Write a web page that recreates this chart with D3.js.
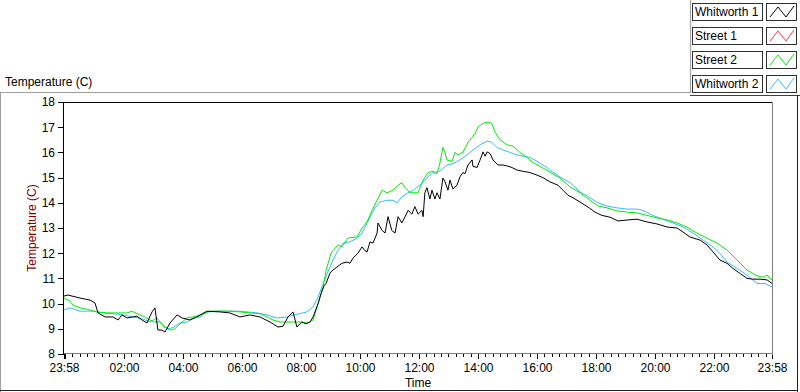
<!DOCTYPE html>
<html>
<head>
<meta charset="utf-8">
<script src="https://cdn.jsdelivr.net/npm/d3@7"></script>
<style>
  body { margin: 0; background: #fff; }
  svg { display: block; font-family: 'Liberation Sans', Arial, sans-serif; }
</style>
</head>
<body>
<div id="chart"></div>
<script>
const svgWidth = 800;
const svgHeight = 392;

// [hours since midnight, temperature C]; run goes 23:58 -> 23:58 next day
const whitworth1 = [
  [-0.033, 10.3], [0.1, 10.34], [0.51, 10.22], [0.85, 10.14], [1.02, 10.02], [1.12, 9.63],
  [1.36, 9.47], [1.63, 9.47], [1.8, 9.35], [1.93, 9.55], [2.1, 9.43], [2.44, 9.5],
  [2.61, 9.35], [2.78, 9.23], [2.95, 9.67], [3.05, 9.83], [3.15, 8.95], [3.29, 8.95],
  [3.39, 8.87], [3.56, 9.23], [3.8, 9.55], [3.97, 9.43], [4.24, 9.35], [4.47, 9.47],
  [4.81, 9.7], [5.25, 9.67], [5.59, 9.63], [5.93, 9.47], [6.27, 9.55], [6.61, 9.47],
  [6.95, 9.27], [7.22, 9.07], [7.39, 9.1], [7.56, 9.47], [7.73, 9.67], [7.8, 9.35],
  [7.86, 9.07], [8.03, 9.27], [8.17, 9.2], [8.31, 9.27], [8.41, 9.47], [8.58, 10.0],
  [8.68, 10.4], [8.78, 10.7], [8.85, 10.8], [8.98, 11.2], [9.05, 11.3], [9.22, 11.45],
  [9.39, 11.6], [9.56, 11.65], [9.66, 11.6], [9.76, 11.8], [9.93, 12.0], [10.07, 12.25],
  [10.17, 12.1], [10.24, 12.05], [10.34, 12.45], [10.44, 12.4], [10.58, 12.8], [10.61, 13.2],
  [10.75, 12.9], [10.85, 12.8], [10.95, 13.45], [11.08, 12.9], [11.19, 12.8], [11.29, 13.45],
  [11.42, 13.2], [11.53, 13.45], [11.63, 13.7], [11.76, 13.55], [11.86, 13.85], [11.97, 13.55],
  [12.1, 13.7], [12.14, 13.45], [12.2, 14.4], [12.27, 14.6], [12.37, 14.15], [12.44, 14.5],
  [12.54, 14.15], [12.61, 14.4], [12.71, 14.15], [12.81, 14.98], [12.88, 14.85], [12.98, 14.5],
  [13.05, 14.9], [13.15, 14.55], [13.29, 14.7], [13.39, 15.03], [13.49, 15.2], [13.56, 15.15],
  [13.66, 15.5], [13.8, 15.7], [13.83, 15.45], [13.97, 15.4], [14.07, 15.7], [14.17, 16.02],
  [14.24, 15.85], [14.31, 16.02], [14.41, 15.95], [14.51, 15.7], [14.68, 15.5], [14.85, 15.5],
  [15.02, 15.45], [15.15, 15.4], [15.32, 15.3], [15.53, 15.25], [15.76, 15.2], [16.0, 15.1],
  [16.2, 15.0], [16.44, 14.83], [16.71, 14.7], [16.88, 14.5], [17.05, 14.3], [17.22, 14.2],
  [17.46, 14.03], [17.73, 13.83], [17.97, 13.63], [18.2, 13.5], [18.47, 13.43], [18.75, 13.28],
  [19.08, 13.32], [19.39, 13.35], [19.73, 13.24], [20.07, 13.16], [20.41, 13.04], [20.75, 13.0],
  [20.95, 12.84], [21.19, 12.64], [21.53, 12.52], [21.76, 12.33], [21.97, 12.05], [22.2, 11.73],
  [22.44, 11.6], [22.64, 11.4], [22.88, 11.2], [23.12, 11.0], [23.32, 10.97], [23.56, 10.97],
  [23.8, 10.94], [23.967, 10.8],
];

// no visible trace in the picture, only a legend entry
const street1 = [];

const street2 = [
  [-0.033, 10.22], [0.17, 10.1], [0.27, 9.94], [0.51, 9.83], [0.85, 9.75], [1.08, 9.67],
  [1.42, 9.63], [1.76, 9.63], [2.1, 9.63], [2.27, 9.7], [2.44, 9.6], [2.71, 9.47],
  [2.88, 9.35], [3.05, 9.27], [3.22, 9.27], [3.39, 9.07], [3.56, 8.95], [3.73, 9.0],
  [3.9, 9.2], [4.14, 9.43], [4.34, 9.47], [4.58, 9.55], [4.92, 9.7], [5.25, 9.7],
  [5.59, 9.7], [5.93, 9.67], [6.27, 9.63], [6.61, 9.6], [6.85, 9.47], [7.05, 9.35],
  [7.29, 9.27], [7.63, 9.27], [8.0, 9.27], [8.24, 9.23], [8.41, 9.35], [8.58, 10.0],
  [8.75, 10.66], [8.85, 11.3], [8.92, 11.6], [9.02, 12.0], [9.08, 12.1], [9.25, 12.33],
  [9.39, 12.25], [9.59, 12.6], [9.9, 12.65], [10.07, 13.0], [10.24, 13.24], [10.41, 13.7],
  [10.58, 14.1], [10.75, 14.5], [10.92, 14.4], [11.12, 14.5], [11.29, 14.7], [11.42, 14.8],
  [11.53, 14.6], [11.69, 14.4], [11.8, 14.4], [11.97, 14.4], [12.14, 14.9], [12.31, 15.2],
  [12.47, 15.25], [12.61, 15.15], [12.71, 15.58], [12.81, 16.2], [12.88, 16.0], [12.95, 15.7],
  [13.12, 15.65], [13.22, 16.0], [13.32, 15.9], [13.49, 16.0], [13.66, 16.4], [13.8, 16.6],
  [13.9, 16.75], [14.0, 17.0], [14.17, 17.15], [14.34, 17.2], [14.47, 17.15], [14.58, 16.8],
  [14.75, 16.5], [14.98, 16.3], [15.19, 16.25], [15.42, 16.0], [15.66, 15.8], [15.86, 15.6],
  [16.1, 15.45], [16.44, 15.22], [16.78, 14.98], [17.12, 14.63], [17.46, 14.4], [17.8, 14.1],
  [18.07, 13.87], [18.37, 13.8], [18.71, 13.68], [19.05, 13.63], [19.39, 13.6], [19.73, 13.5],
  [20.07, 13.4], [20.41, 13.32], [20.75, 13.2], [21.08, 13.04], [21.42, 12.8], [21.76, 12.6],
  [22.1, 12.4], [22.44, 12.13], [22.78, 11.73], [23.12, 11.33], [23.46, 11.1], [23.66, 11.05],
  [23.8, 11.13], [23.967, 10.94],
];

const whitworth2 = [
  [-0.033, 9.75], [0.17, 9.83], [0.51, 9.7], [0.95, 9.7], [1.29, 9.63], [1.63, 9.6],
  [1.97, 9.55], [2.31, 9.47], [2.64, 9.39], [2.88, 9.27], [3.12, 9.43], [3.36, 9.07],
  [3.53, 9.0], [3.69, 9.07], [3.9, 9.23], [4.14, 9.27], [4.34, 9.43], [4.58, 9.47],
  [4.81, 9.67], [5.15, 9.7], [5.49, 9.7], [5.83, 9.7], [6.17, 9.67], [6.51, 9.63],
  [6.85, 9.55], [7.19, 9.43], [7.53, 9.47], [7.73, 9.55], [7.97, 9.6], [8.2, 9.67],
  [8.41, 9.87], [8.58, 10.26], [8.75, 10.8], [9.0, 11.5], [9.22, 12.05], [9.42, 12.4],
  [9.66, 12.45], [9.9, 12.6], [10.07, 12.8], [10.24, 13.2], [10.41, 13.6], [10.51, 13.8],
  [10.68, 14.03], [10.92, 14.1], [11.12, 14.1], [11.25, 14.0], [11.42, 14.23], [11.63, 14.4],
  [11.8, 14.5], [12.03, 14.7], [12.27, 15.0], [12.47, 15.2], [12.71, 15.25], [12.95, 15.5],
  [13.15, 15.55], [13.39, 15.7], [13.63, 15.9], [13.83, 16.1], [14.07, 16.3], [14.31, 16.45],
  [14.47, 16.4], [14.64, 16.2], [14.85, 16.1], [15.08, 16.0], [15.32, 15.9], [15.53, 15.85],
  [15.76, 15.8], [16.0, 15.65], [16.34, 15.4], [16.44, 15.3], [16.78, 15.03], [17.12, 14.8],
  [17.46, 14.43], [17.8, 14.2], [18.07, 14.0], [18.37, 13.87], [18.71, 13.8], [19.05, 13.75],
  [19.39, 13.75], [19.59, 13.7], [19.93, 13.5], [20.27, 13.35], [20.61, 13.2], [20.95, 13.04],
  [21.29, 12.8], [21.63, 12.52], [21.97, 12.25], [22.2, 12.0], [22.44, 11.65], [22.78, 11.4],
  [23.12, 11.13], [23.46, 10.8], [23.73, 10.8], [23.967, 10.66],
];

const seriesNames = ['Whitworth 1', 'Street 1', 'Street 2', 'Whitworth 2'];
const seriesColors = ['#000000', '#ff3b3b', '#00ee00', '#33bbff'];
const seriesData = [whitworth1, street1, street2, whitworth2];

const yTicks = [8, 9, 10, 11, 12, 13, 14, 15, 16, 17, 18];
const timeStart = -2 / 60;
const timeEnd = 23 + 58 / 60;
const majorHours = [timeStart, 0, 2, 4, 6, 8, 10, 12, 14, 16, 18, 20, 22, timeEnd];

const plot = { left: 64, right: 772, top: 102, bottom: 354 };

const svg = d3.select('#chart').append('svg').attr('width', svgWidth).attr('height', svgHeight);

const x = d3.scaleLinear().domain([timeStart, timeEnd]).range([plot.left, plot.right]);
const y = d3.scaleLinear().domain([8, 18]).range([plot.bottom, plot.top]);

// outer panel frame
const frame = svg.append('g').attr('shape-rendering', 'crispEdges');
frame.append('line').attr('x1', 0).attr('x2', 690).attr('y1', 92.5).attr('y2', 92.5).attr('stroke', '#a0a0a0');
frame.append('line').attr('x1', 0.5).attr('x2', 0.5).attr('y1', 92).attr('y2', 392).attr('stroke', '#a0a0a0');
frame.append('line').attr('x1', 690.5).attr('x2', 690.5).attr('y1', 0).attr('y2', 93).attr('stroke', '#a0a0a0');
frame.append('line').attr('x1', 690).attr('x2', 800).attr('y1', 95.5).attr('y2', 95.5).attr('stroke', '#404040');
frame.append('line').attr('x1', 797.5).attr('x2', 797.5).attr('y1', 95).attr('y2', 392).attr('stroke', '#202020');
frame.append('line').attr('x1', 0).attr('x2', 798).attr('y1', 390.5).attr('y2', 390.5).attr('stroke', '#202020');

svg.append('text')
  .attr('x', 5)
  .attr('y', 86)
  .style('font-size', '12px')
  .text('Temperature (C)');

// axes
const xAxis = d3
  .axisBottom(x)
  .tickValues(majorHours)
  .tickSize(5)
  .tickSizeOuter(0)
  .tickPadding(4)
  .tickFormat((h) => {
    if (h === timeStart || h === timeEnd) return '23:58';
    if (h === 0) return '';
    return d3.format('02d')(h) + ':00';
  });

const gx = svg.append('g').attr('transform', `translate(0, ${plot.bottom})`).call(xAxis);
gx.select('.domain').remove();
gx.selectAll('.tick line').attr('stroke', '#000').attr('shape-rendering', 'crispEdges');
gx.selectAll('.tick text').style('font-size', '12px').attr('fill', '#000').attr('font-family', 'Liberation Sans, Arial, sans-serif');

const minorHours = d3.range(0.25, 24, 0.25).filter((h) => h % 2 !== 0);
gx.selectAll('.minor')
  .data(minorHours)
  .join('line')
  .attr('class', 'minor')
  .attr('x1', (d) => Math.round(x(d)) + 0.5)
  .attr('x2', (d) => Math.round(x(d)) + 0.5)
  .attr('y1', 0)
  .attr('y2', 3)
  .attr('stroke', '#000')
  .attr('shape-rendering', 'crispEdges');

const yAxis = d3.axisLeft(y).tickValues(yTicks).tickSize(5).tickSizeOuter(0).tickPadding(3);
const gy = svg.append('g').attr('transform', `translate(${plot.left - 1}, 0)`).call(yAxis);
gy.select('.domain').remove();
gy.selectAll('.tick line').attr('stroke', '#000').attr('shape-rendering', 'crispEdges');
gy.selectAll('.tick text').style('font-size', '12px').attr('fill', '#000').attr('font-family', 'Liberation Sans, Arial, sans-serif');

svg.append('text')
  .attr('transform', 'rotate(-90)')
  .attr('x', -(plot.top + plot.bottom) / 2)
  .attr('y', 36)
  .style('text-anchor', 'middle')
  .style('font-size', '12px')
  .attr('fill', '#800000')
  .text('Temperature (C)');

svg.append('text')
  .attr('x', (plot.left + plot.right) / 2)
  .attr('y', 387)
  .style('text-anchor', 'middle')
  .style('font-size', '12px')
  .text('Time');

// plot box: dark top/left, grey bottom/right
const box = svg.append('g').attr('shape-rendering', 'crispEdges');
box.append('line').attr('x1', plot.left - 1).attr('x2', plot.right).attr('y1', plot.top + 0.5).attr('y2', plot.top + 0.5).attr('stroke', '#000');
box.append('line').attr('x1', plot.left - 0.5).attr('x2', plot.left - 0.5).attr('y1', plot.top).attr('y2', plot.bottom + 1).attr('stroke', '#000');
box.append('line').attr('x1', plot.right + 0.5).attr('x2', plot.right + 0.5).attr('y1', plot.top).attr('y2', plot.bottom + 1).attr('stroke', '#808080');
box.append('line').attr('x1', plot.left).attr('x2', plot.right + 1).attr('y1', plot.bottom - 0.5).attr('y2', plot.bottom - 0.5).attr('stroke', '#808080');

svg.append('clipPath')
  .attr('id', 'plot-clip')
  .append('rect')
  .attr('x', plot.left)
  .attr('y', plot.top + 1)
  .attr('width', plot.right - plot.left)
  .attr('height', plot.bottom - plot.top - 2);

const line = d3
  .line()
  .x((d) => x(d[0]))
  .y((d) => y(d[1]));

const container = svg.append('g').attr('clip-path', 'url(#plot-clip)');
[3, 2, 1, 0].forEach((i) => {
  if (!seriesData[i].length) return;
  container
    .append('path')
    .datum(seriesData[i])
    .attr('fill', 'none')
    .attr('stroke', seriesColors[i])
    .attr('stroke-width', 1)
    .attr('d', line);
});

// legend
const legend = svg.append('g').attr('transform', 'translate(692, 3)');
seriesNames.forEach((name, i) => {
  const g = legend.append('g').attr('transform', `translate(0, ${i * 24})`);
  g.append('rect')
    .attr('x', 0.5)
    .attr('y', 0.5)
    .attr('width', 70)
    .attr('height', 17)
    .attr('fill', '#fff')
    .attr('stroke', '#303030')
    .attr('shape-rendering', 'crispEdges');
  g.append('text')
    .attr('x', 3)
    .attr('y', 13)
    .style('font-size', '12px')
    .text(name);
  g.append('rect')
    .attr('x', 74.5)
    .attr('y', 0.5)
    .attr('width', 30)
    .attr('height', 17)
    .attr('fill', '#fff')
    .attr('stroke', '#303030')
    .attr('shape-rendering', 'crispEdges');
  g.append('path')
    .attr('d', d3.line()([[78, 14], [86, 4], [94, 14], [102, 3]]))
    .attr('fill', 'none')
    .attr('stroke', seriesColors[i])
    .attr('stroke-width', 1);
});
</script>
</body>
</html>
